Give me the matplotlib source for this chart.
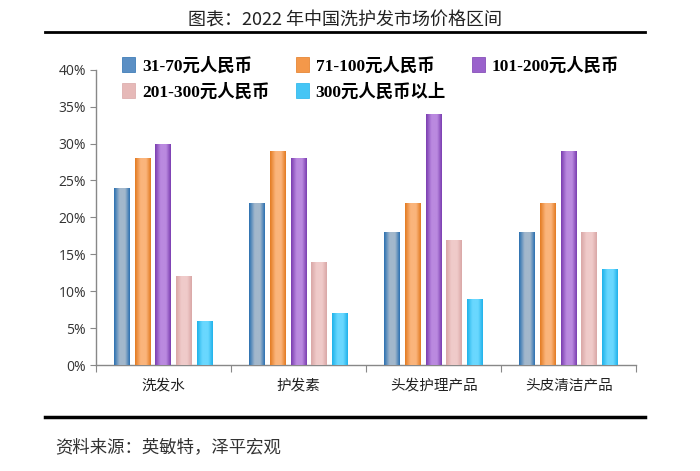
import numpy as np
import matplotlib.pyplot as plt
from matplotlib.colors import LinearSegmentedColormap
from matplotlib.lines import Line2D
from matplotlib.patches import Patch

plt.rcParams['font.family'] = ['Noto Sans CJK SC', 'DejaVu Sans']

categories = ['洗发水', '护发素', '头发护理产品', '头皮清洁产品']
series = ['31-70元人民币', '71-100元人民币', '101-200元人民币', '201-300元人民币', '300元人民币以上']
v_31_70 = [24, 22, 18, 18]
v_71_100 = [28, 29, 22, 22]
v_101_200 = [30, 28, 34, 29]
v_201_300 = [12, 14, 17, 18]
v_300_up = [6, 7, 9, 13]
values = [v_31_70, v_71_100, v_101_200, v_201_300, v_300_up]
yticks = [0, 5, 10, 15, 20, 25, 30, 35, 40]

# (dark edge, light centre, legend colour)
palette = [
    ('#2a6fb0', '#a3b8cc', '#5b8fc4'),
    ('#e37a20', '#fbb57c', '#f4984a'),
    ('#7a3cb0', '#bb8ae0', '#9a62cc'),
    ('#d9a7a6', '#f0cbca', '#e6b9b8'),
    ('#1fb2ea', '#6ad8ff', '#45c5f5'),
]

fig = plt.figure(figsize=(7, 4.71), dpi=100)
ax = fig.add_axes([0.137, 0.225, 0.772, 0.627])

x = np.arange(len(categories))
w = 0.118
step = 0.153
for i, vals in enumerate(values):
    dark, light, _ = palette[i]
    bars = ax.bar(x + (i - 2) * step, vals, width=w, color=light, edgecolor='none', zorder=2)
    cmap = LinearSegmentedColormap.from_list('g%d' % i, [(0, dark), (0.35, light), (0.7, light), (1, dark)])
    grad = np.linspace(0, 1, 64).reshape(1, -1)
    for b in bars:
        x0, h = b.get_x(), b.get_height()
        im = ax.imshow(grad, cmap=cmap, aspect='auto', extent=(x0, x0 + b.get_width(), 0, h),
                       zorder=3, interpolation='bicubic')
        im.set_clip_path(b)

ax.set_xlim(-0.5, len(categories) - 0.5)
ax.set_ylim(0, 40)
ax.set_yticks(yticks)
ax.set_yticklabels(['%d%%' % t for t in yticks], fontsize=10, color='#333333',
                   family=['Open Sans', 'DejaVu Sans'])
ax.set_xticks(np.arange(len(categories) + 1) - 0.5)
ax.set_xticklabels([])
ax.set_xticks(x, minor=True)
ax.set_xticklabels(categories, minor=True, fontsize=10.5, color='#222222')
ax.tick_params(axis='x', which='minor', length=0, pad=10)
ax.tick_params(axis='x', which='major', length=5, color='#888888', direction='out')
ax.tick_params(axis='y', length=4, color='#888888', direction='out', pad=3)
for s in ['top', 'right']:
    ax.spines[s].set_visible(False)
for s in ['left', 'bottom']:
    ax.spines[s].set_color('#888888')
    ax.spines[s].set_linewidth(1.0)

handles = [Patch(facecolor=palette[i][2], edgecolor=palette[i][0], linewidth=0.5) for i in range(5)]
order = [0, 3, 1, 4, 2]
leg = ax.legend([handles[k] for k in order], [series[k] for k in order], ncol=3,
                loc='upper left', bbox_to_anchor=(0.02, 1.095), frameon=False,
                handlelength=0.75, handleheight=0.9, handletextpad=0.4,
                columnspacing=1.5, labelspacing=0.5,
                prop={'family': ['Liberation Serif', 'Noto Sans CJK SC'], 'weight': 'bold', 'size': 12.5})

fig.text(0.493, 0.957, '图表：2022 年中国洗护发市场价格区间', ha='center', va='center',
         fontsize=13, color='#222222')
fig.add_artist(Line2D([0.064, 0.921], [0.932, 0.932], color='black', linewidth=2))
fig.add_artist(Line2D([0.064, 0.921], [0.115, 0.115], color='black', linewidth=2.5))
fig.text(0.079, 0.051, '资料来源：英敏特，泽平宏观', ha='left', va='center',
         fontsize=12.5, style='italic', color='#333333')

fig.savefig('out.png', dpi=100)
